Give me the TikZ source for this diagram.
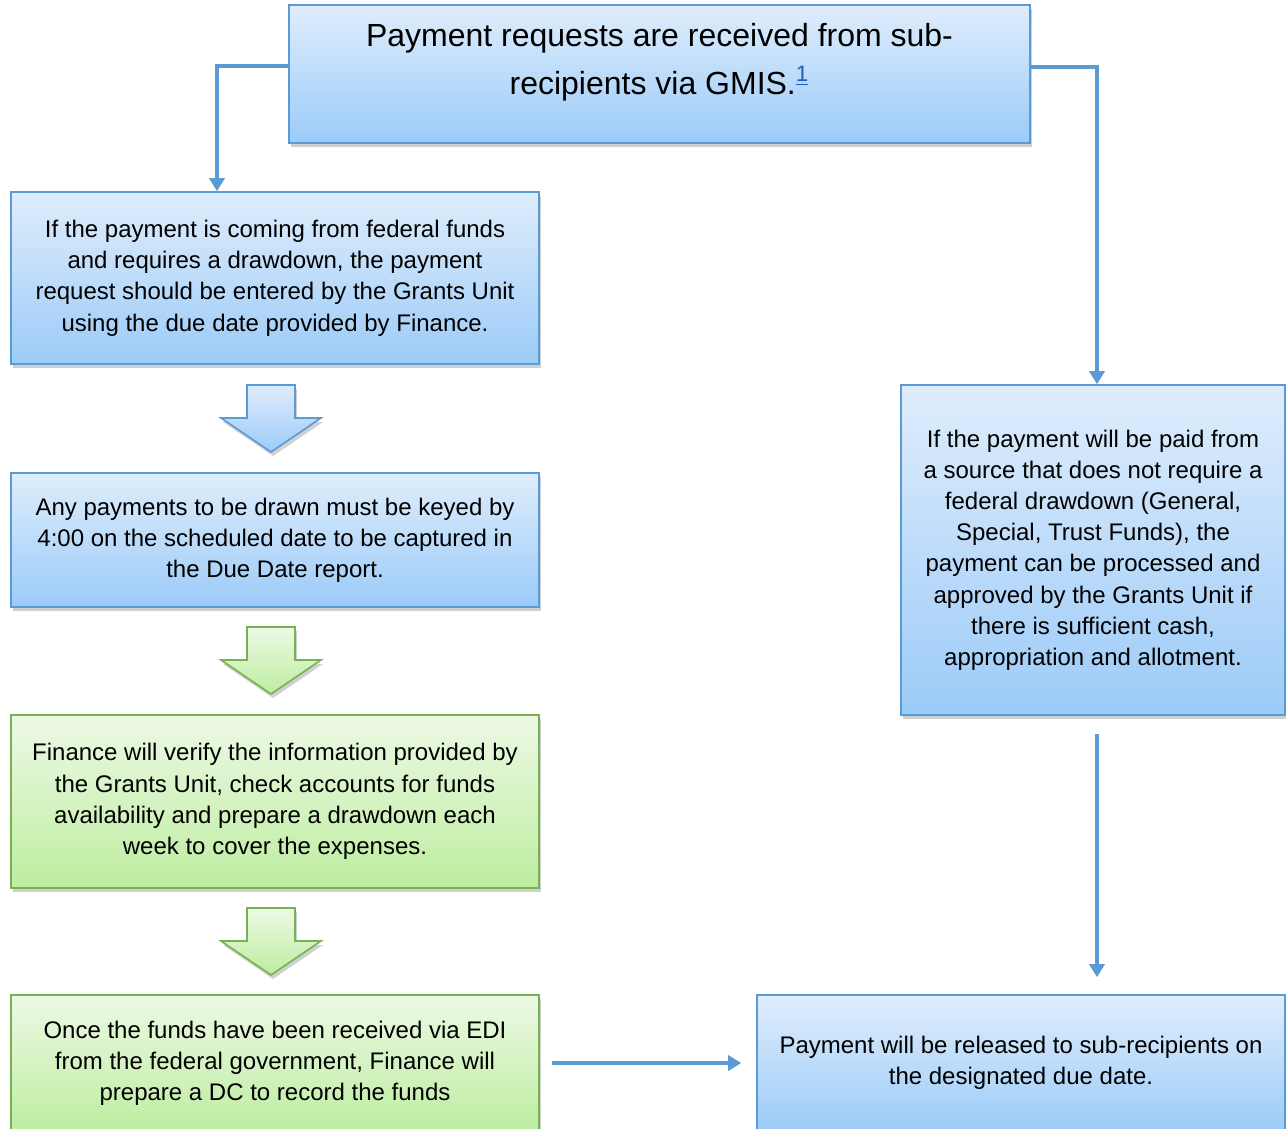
\documentclass[tikz,border=0pt]{standalone}
\usepackage{fontspec}
\setmainfont{Liberation Sans}
\usetikzlibrary{arrows.meta,shadows,calc}
\definecolor{boxblue}{HTML}{5B9BD5}
\definecolor{bluetop}{HTML}{DFEDFC}
\definecolor{bluebot}{HTML}{9CCBF8}
\definecolor{boxgreen}{HTML}{77B154}
\definecolor{greentop}{HTML}{EDF9E5}
\definecolor{greenbot}{HTML}{BDEDA0}
\definecolor{linkblue}{HTML}{1F5FBF}
\tikzset{
  stepbase/.style={
    draw,
    line width=0.8pt,
    shading=axis,
    inner sep=0pt,
    align=center,
    text=black,
    font=\fontsize{12}{15.6}\selectfont,
    drop shadow={shadow xshift=1pt, shadow yshift=-2pt, opacity=0.3, fill=black!60}
  },
  bluebox/.style={stepbase, draw=boxblue, top color=bluetop, bottom color=bluebot},
  greenbox/.style={stepbase, draw=boxgreen, top color=greentop, bottom color=greenbot},
  bluearrow/.style={bluebox},
  greenarrow/.style={greenbox},
  link/.style={draw=boxblue, line width=1.6pt, -{Triangle[width=7.5pt,length=6.5pt]}},
}
% block arrow pointing down: style, centre x, top y
\newcommand{\DownBlock}[3]{%
  \path[#1] (#2-24,#3) -- (#2+24,#3) -- (#2+24,#3+33) -- (#2+50,#3+33)
    -- (#2,#3+67) -- (#2-50,#3+33) -- (#2-24,#3+33) -- cycle;
}

\begin{document}
\begin{tikzpicture}[x=0.5pt, y=-0.5pt]
  \useasboundingbox (0,0) rectangle (1286,1129);
  \fill[white] (0,0) rectangle (1286,1129);

  % top box
  \node[bluebox, minimum width=370.5pt, minimum height=69pt] (req) at (659.5,74) {};
  \node[font=\fontsize{16}{24}\selectfont, align=center, inner sep=0pt] (reqtext) at (659.5,62)
    {Payment requests are received from sub-\\recipients via GMIS.\textsuperscript{\textcolor{linkblue}{\underline{1}}}};

  % left column
  \node[bluebox, minimum width=264pt, minimum height=86pt] (fed) at (275,278)
    {If the payment is coming from federal funds\\and requires a drawdown, the payment\\request should be entered by the Grants Unit\\using the due date provided by Finance.};
  \DownBlock{bluearrow}{271}{385}
  \node[bluebox, minimum width=264pt, minimum height=67pt] (keyed) at (275,540)
    {Any payments to be drawn must be keyed by\\4:00 on the scheduled date to be captured in\\the Due Date report.};
  \DownBlock{greenarrow}{271}{627}
  \node[greenbox, minimum width=264pt, minimum height=86.5pt] (verify) at (275,801.5)
    {Finance will verify the information provided by\\the Grants Unit, check accounts for funds\\availability and prepare a drawdown each\\week to cover the expenses.};
  \DownBlock{greenarrow}{271}{908}
  \node[greenbox, minimum width=264pt, minimum height=68pt] (edi) at (275,1063)
    {Once the funds have been received via EDI\\from the federal government, Finance will\\prepare a DC to record the funds};

  % right column
  \node[bluebox, minimum width=192pt, minimum height=165pt] (nonfed) at (1093,550)
    {If the payment will be paid from\\a source that does not require a\\federal drawdown (General,\\Special, Trust Funds), the\\payment can be processed and\\approved by the Grants Unit if\\there is sufficient cash,\\appropriation and allotment.};
  \node[bluebox, minimum width=264pt, minimum height=68pt] (release) at (1021,1063)
    {Payment will be released to sub-recipients on\\the designated due date.};

  % connectors
  \draw[link] ([yshift=4pt]req.west) -| ([xshift=-29pt]fed.north);
  \draw[link] ([yshift=3.5pt]req.east) -| ([xshift=2pt]nonfed.north);
  \draw[link, shorten <=9pt, shorten >=8.5pt] ([xshift=2pt]nonfed.south) -- ([xshift=2pt]nonfed.south |- release.north);
  \draw[link, shorten <=6pt, shorten >=7.5pt] (edi.east |- release.west) -- (release.west);
\end{tikzpicture}
\end{document}
